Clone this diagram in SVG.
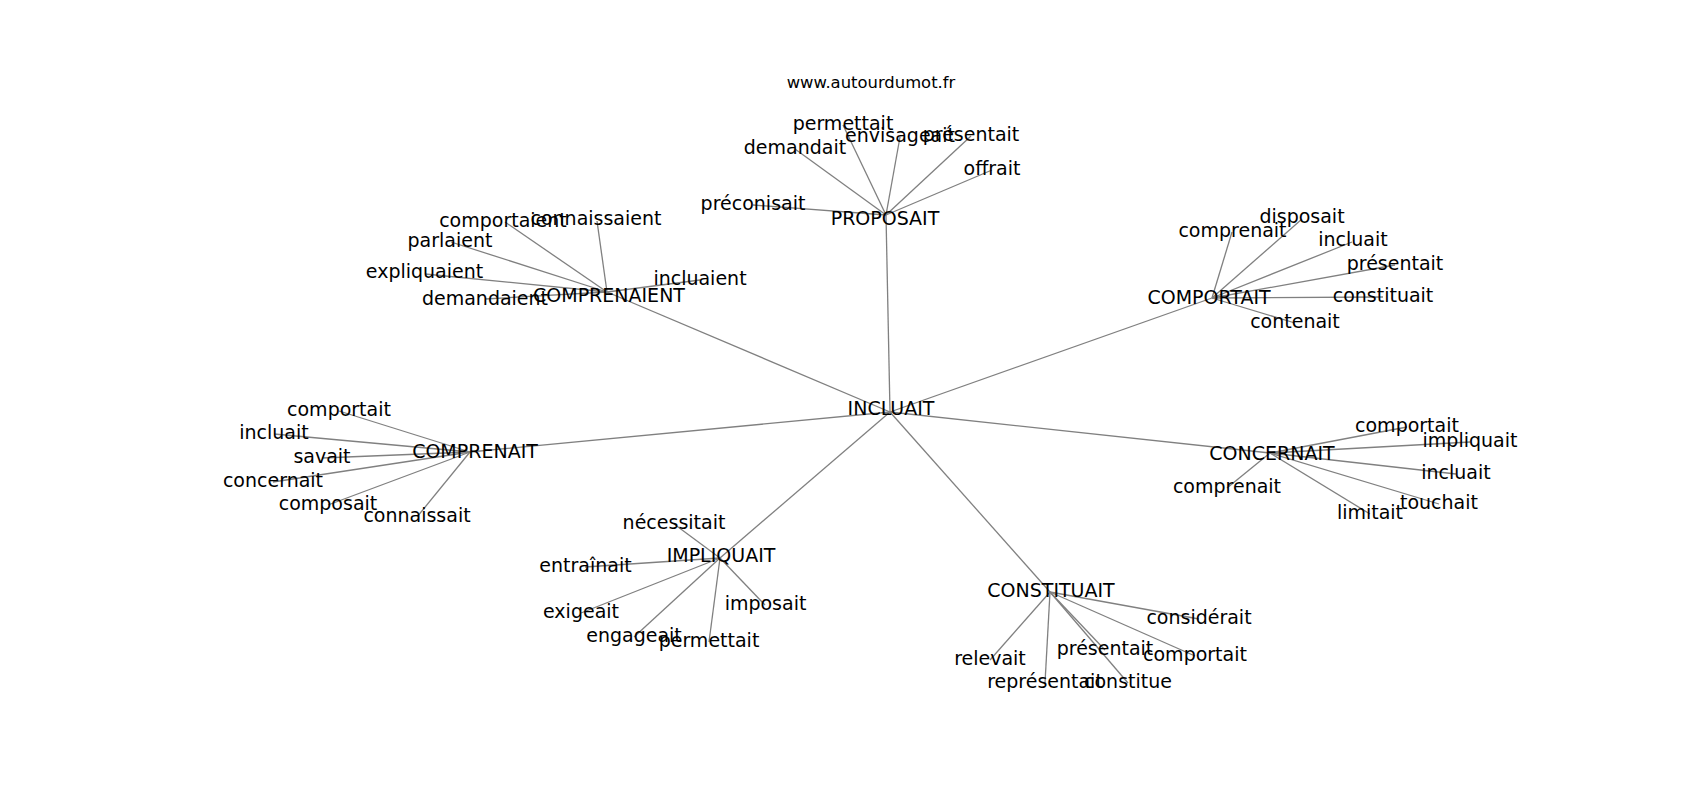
<svg xmlns="http://www.w3.org/2000/svg" width="1700" height="800" viewBox="0 0 1700 800">
<style>
.e{stroke:#808080;stroke-width:1.3;fill:none}
text{font-family:"DejaVu Sans","Liberation Sans",sans-serif;font-size:19px;fill:#000;text-anchor:middle}
.t{font-size:16.4px}
</style>
<rect width="1700" height="800" fill="#fff"/>
<g id="edges">
<line class="e" x1="890" y1="412" x2="886" y2="215"/>
<line class="e" x1="890" y1="412" x2="607" y2="292"/>
<line class="e" x1="890" y1="412" x2="1212" y2="298"/>
<line class="e" x1="890" y1="412" x2="470" y2="452"/>
<line class="e" x1="890" y1="412" x2="1270" y2="453"/>
<line class="e" x1="890" y1="412" x2="720" y2="558"/>
<line class="e" x1="890" y1="412" x2="1050" y2="592"/>

<line class="e" x1="886" y1="215" x2="843" y2="125"/>
<line class="e" x1="886" y1="215" x2="795" y2="149"/>
<line class="e" x1="886" y1="215" x2="900" y2="137"/>
<line class="e" x1="886" y1="215" x2="971" y2="136"/>
<line class="e" x1="886" y1="215" x2="992" y2="170"/>
<line class="e" x1="886" y1="215" x2="753" y2="205"/>

<line class="e" x1="607" y1="292" x2="505" y2="222"/>
<line class="e" x1="607" y1="292" x2="597" y2="221"/>
<line class="e" x1="607" y1="292" x2="451" y2="242"/>
<line class="e" x1="607" y1="292" x2="425" y2="274"/>
<line class="e" x1="607" y1="292" x2="485" y2="299"/>
<line class="e" x1="607" y1="292" x2="700" y2="280"/>

<line class="e" x1="1212" y1="298" x2="1232" y2="232"/>
<line class="e" x1="1212" y1="298" x2="1302" y2="219"/>
<line class="e" x1="1212" y1="298" x2="1352" y2="242"/>
<line class="e" x1="1212" y1="298" x2="1395" y2="265"/>
<line class="e" x1="1212" y1="298" x2="1383" y2="297"/>
<line class="e" x1="1212" y1="298" x2="1295" y2="323"/>

<line class="e" x1="470" y1="452" x2="339" y2="411"/>
<line class="e" x1="470" y1="452" x2="274" y2="434"/>
<line class="e" x1="470" y1="452" x2="322" y2="458"/>
<line class="e" x1="470" y1="452" x2="273" y2="482"/>
<line class="e" x1="470" y1="452" x2="328" y2="505"/>
<line class="e" x1="470" y1="452" x2="417" y2="517"/>

<line class="e" x1="1270" y1="453" x2="1407" y2="427"/>
<line class="e" x1="1270" y1="453" x2="1470" y2="442"/>
<line class="e" x1="1270" y1="453" x2="1456" y2="474"/>
<line class="e" x1="1270" y1="453" x2="1439" y2="504"/>
<line class="e" x1="1270" y1="453" x2="1370" y2="514"/>
<line class="e" x1="1270" y1="453" x2="1227" y2="488"/>

<line class="e" x1="720" y1="558" x2="674" y2="524"/>
<line class="e" x1="720" y1="558" x2="585" y2="567"/>
<line class="e" x1="720" y1="558" x2="581" y2="613"/>
<line class="e" x1="720" y1="558" x2="765" y2="605"/>
<line class="e" x1="720" y1="558" x2="634" y2="637"/>
<line class="e" x1="720" y1="558" x2="709" y2="642"/>

<line class="e" x1="1050" y1="592" x2="1199" y2="619"/>
<line class="e" x1="1050" y1="592" x2="1105" y2="650"/>
<line class="e" x1="1050" y1="592" x2="1195" y2="656"/>
<line class="e" x1="1050" y1="592" x2="990" y2="660"/>
<line class="e" x1="1050" y1="592" x2="1045" y2="683"/>
<line class="e" x1="1050" y1="592" x2="1128" y2="683"/>
</g>

<text class="t" x="871" y="88">www.autourdumot.fr</text>

<g id="n-INCLUAIT"><text x="891" y="415">INCLUAIT</text></g>

<g id="n-PROPOSAIT"><text x="885" y="225">PROPOSAIT</text></g>
<g id="n-p-permettait"><text x="843" y="130">permettait</text></g>
<g id="n-p-demandait"><text x="795" y="154">demandait</text></g>
<g id="n-p-envisageait"><text x="900" y="142">envisageait</text></g>
<g id="n-p-presentait"><text x="971" y="141">présentait</text></g>
<g id="n-p-offrait"><text x="992" y="175">offrait</text></g>
<g id="n-p-preconisait"><text x="753" y="210">préconisait</text></g>

<g id="n-COMPRENAIENT"><text x="609" y="302">COMPRENAIENT</text></g>
<g id="n-ce-comportaient"><text x="503" y="227">comportaient</text></g>
<g id="n-ce-connaissaient"><text x="596" y="225">connaissaient</text></g>
<g id="n-ce-parlaient"><text x="450" y="247">parlaient</text></g>
<g id="n-ce-expliquaient"><text x="424.5" y="278">expliquaient</text></g>
<g id="n-ce-demandaient"><text x="485" y="305">demandaient</text></g>
<g id="n-ce-incluaient"><text x="700" y="285">incluaient</text></g>

<g id="n-COMPORTAIT"><text x="1209" y="304">COMPORTAIT</text></g>
<g id="n-co-comprenait"><text x="1232.5" y="237">comprenait</text></g>
<g id="n-co-disposait"><text x="1302" y="223">disposait</text></g>
<g id="n-co-incluait"><text x="1353" y="246">incluait</text></g>
<g id="n-co-presentait"><text x="1395" y="270">présentait</text></g>
<g id="n-co-constituait"><text x="1383" y="302">constituait</text></g>
<g id="n-co-contenait"><text x="1295" y="328">contenait</text></g>

<g id="n-COMPRENAIT"><text x="475" y="458">COMPRENAIT</text></g>
<g id="n-cp-comportait"><text x="339" y="416">comportait</text></g>
<g id="n-cp-incluait"><text x="274" y="439">incluait</text></g>
<g id="n-cp-savait"><text x="322" y="463">savait</text></g>
<g id="n-cp-concernait"><text x="273" y="487">concernait</text></g>
<g id="n-cp-composait"><text x="328" y="510">composait</text></g>
<g id="n-cp-connaissait"><text x="417" y="522">connaissait</text></g>

<g id="n-CONCERNAIT"><text x="1272" y="460">CONCERNAIT</text></g>
<g id="n-cn-comportait"><text x="1407" y="432">comportait</text></g>
<g id="n-cn-impliquait"><text x="1470" y="447">impliquait</text></g>
<g id="n-cn-incluait"><text x="1456" y="479">incluait</text></g>
<g id="n-cn-touchait"><text x="1439" y="509">touchait</text></g>
<g id="n-cn-limitait"><text x="1370" y="519">limitait</text></g>
<g id="n-cn-comprenait"><text x="1227" y="493">comprenait</text></g>

<g id="n-IMPLIQUAIT"><text x="721" y="562">IMPLIQUAIT</text></g>
<g id="n-im-necessitait"><text x="674" y="529">nécessitait</text></g>
<g id="n-im-entrainait"><text x="585.5" y="572">entraînait</text></g>
<g id="n-im-exigeait"><text x="581" y="618">exigeait</text></g>
<g id="n-im-imposait"><text x="765.5" y="610">imposait</text></g>
<g id="n-im-engageait"><text x="634" y="642">engageait</text></g>
<g id="n-im-permettait"><text x="709" y="647">permettait</text></g>

<g id="n-CONSTITUAIT"><text x="1051" y="597">CONSTITUAIT</text></g>
<g id="n-cs-considerait"><text x="1199" y="624">considérait</text></g>
<g id="n-cs-presentait"><text x="1105" y="655">présentait</text></g>
<g id="n-cs-comportait"><text x="1195" y="661">comportait</text></g>
<g id="n-cs-relevait"><text x="990" y="665">relevait</text></g>
<g id="n-cs-representait"><text x="1045" y="688">représentait</text></g>
<g id="n-cs-constitue"><text x="1128" y="688">constitue</text></g>
</svg>
